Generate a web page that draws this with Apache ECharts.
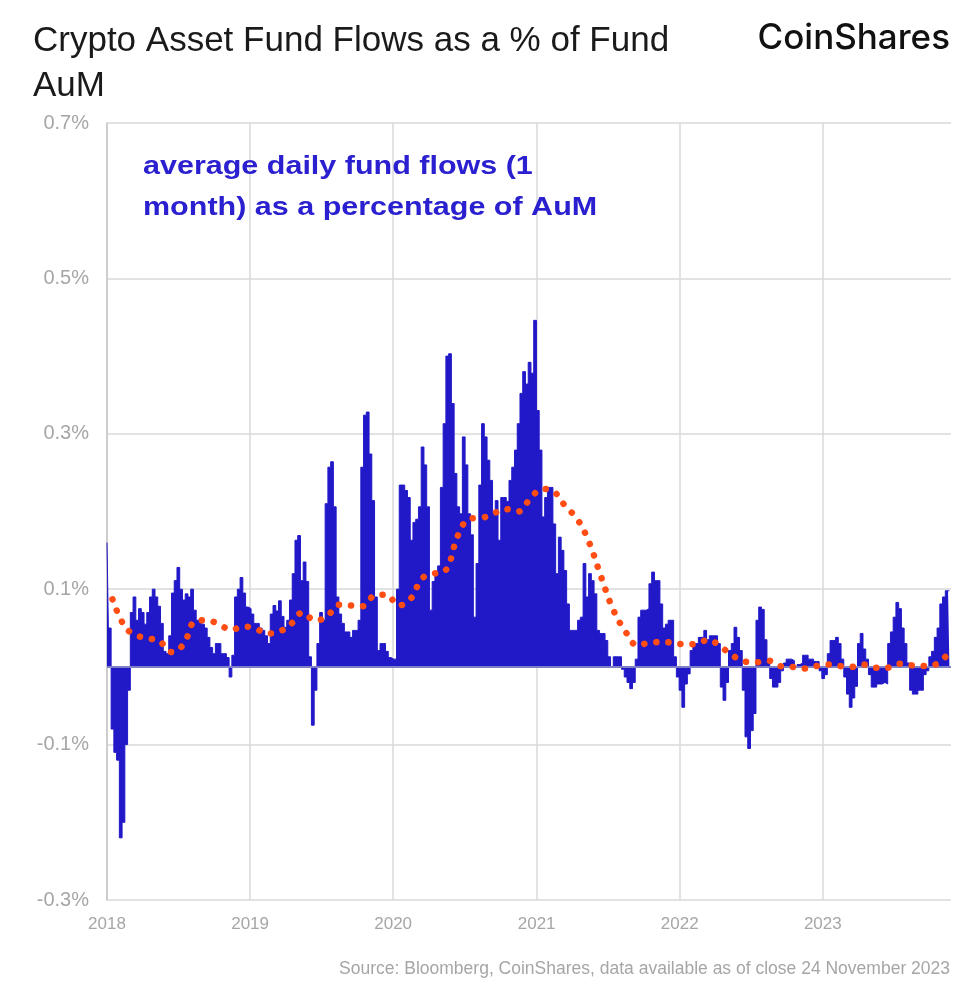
<!DOCTYPE html>
<html><head><meta charset="utf-8">
<script src="https://cdn.jsdelivr.net/npm/echarts@6/dist/echarts.min.js"></script>
<style>html,body{margin:0;padding:0;background:#fff}#c{width:960px;height:990px}</style>
</head><body><div id="c"></div>
<script>
// Weekly observations of average daily fund flows (1 month) as % of AuM, starting 2018-01-01
const flowStart = '2018-01-01';
const flowStepDays = 7;
const flowValues = [
 0.16, 0.05, -0.08, -0.11, -0.12, -0.22, -0.20, -0.10, -0.03, 0.07,
 0.09, 0.06, 0.075, 0.07, 0.055, 0.07, 0.09, 0.10, 0.09, 0.078,
 0.056, 0.02, 0.017, 0.04, 0.095, 0.111, 0.128, 0.10, 0.086, 0.094,
 0.09, 0.10, 0.073, 0.06, 0.058, 0.055, 0.05, 0.038, 0.025, 0.017,
 0.03, 0.03, 0.017, 0.017, 0.012, -0.013, 0.015, 0.09, 0.10, 0.115,
 0.095, 0.077, 0.075, 0.068, 0.056, 0.056, 0.05, 0.047, 0.04, 0.03,
 0.068, 0.079, 0.072, 0.085, 0.065, 0.051, 0.06, 0.086, 0.12, 0.163,
 0.169, 0.111, 0.135, 0.11, 0.013, -0.075, -0.03, 0.03, 0.07, 0.06,
 0.21, 0.257, 0.264, 0.206, 0.09, 0.068, 0.056, 0.045, 0.045, 0.038,
 0.047, 0.047, 0.06, 0.257, 0.324, 0.328, 0.274, 0.214, 0.09, 0.021,
 0.03, 0.03, 0.02, 0.012, 0.01, 0.01, 0.10, 0.234, 0.234, 0.227,
 0.218, 0.163, 0.186, 0.19, 0.206, 0.283, 0.26, 0.206, 0.073, 0.11,
 0.12, 0.13, 0.231, 0.313, 0.40, 0.403, 0.339, 0.249, 0.206, 0.197,
 0.296, 0.26, 0.197, 0.17, 0.064, 0.133, 0.234, 0.313, 0.296, 0.266,
 0.24, 0.2, 0.214, 0.163, 0.218, 0.218, 0.213, 0.24, 0.257, 0.279,
 0.313, 0.352, 0.38, 0.364, 0.392, 0.378, 0.446, 0.33, 0.279, 0.193,
 0.218, 0.231, 0.231, 0.184, 0.12, 0.167, 0.15, 0.124, 0.081, 0.047,
 0.047, 0.047, 0.06, 0.064, 0.133, 0.09, 0.12, 0.111, 0.094, 0.047,
 0.043, 0.043, 0.034, 0.013, 0.0, 0.013, 0.013, 0.013, -0.003, -0.013,
 -0.02, -0.028, -0.02, 0.01, 0.064, 0.073, 0.073, 0.075, 0.107, 0.122,
 0.111, 0.111, 0.081, 0.05, 0.055, 0.06, 0.06, 0.013, -0.013, -0.03,
 -0.052, -0.022, -0.009, 0.021, 0.03, 0.03, 0.038, 0.038, 0.047, 0.035,
 0.04, 0.04, 0.04, 0.03, -0.026, -0.043, -0.02, 0.021, 0.03, 0.051,
 0.038, 0.021, -0.03, -0.09, -0.105, -0.082, -0.06, 0.06, 0.077, 0.074,
 0.035, 0.01, -0.015, -0.026, -0.026, -0.02, -0.005, 0.005, 0.01, 0.01,
 0.008, 0.0, 0.003, 0.005, 0.015, 0.015, 0.01, 0.01, 0.007, 0.007,
 -0.005, -0.015, -0.01, 0.017, 0.034, 0.034, 0.038, 0.03, 0.01, -0.013,
 -0.035, -0.052, -0.04, -0.025, 0.03, 0.043, 0.023, 0.01, -0.01, -0.026,
 -0.026, -0.022, -0.022, -0.02, -0.022, 0.03, 0.045, 0.064, 0.083, 0.075,
 0.05, 0.03, 0.005, -0.03, -0.035, -0.035, -0.03, -0.03, -0.01, -0.005,
 0.013, 0.02, 0.038, 0.05, 0.081, 0.09, 0.098, 0.098
];
// Mid-month values of the orange trend line, Jan 2018 .. Nov 2023
const trendStartYear = 2018;
const trendValues = [
 0.087, 0.052, 0.041, 0.037, 0.033, 0.019, 0.029, 0.059, 0.060, 0.054, 0.048, 0.052,
 0.049, 0.043, 0.045, 0.055, 0.070, 0.060, 0.064, 0.080, 0.079, 0.078, 0.092, 0.093,
 0.079, 0.088, 0.114, 0.120, 0.125, 0.170, 0.191, 0.192, 0.198, 0.203, 0.200, 0.216,
 0.229, 0.225, 0.207, 0.190, 0.160, 0.115, 0.074, 0.046, 0.028, 0.031, 0.032, 0.031,
 0.029, 0.030, 0.035, 0.026, 0.015, 0.007, 0.006, 0.008, 0.001, 0.000, -0.002, 0.001,
 0.003, 0.001, 0.000, 0.003, -0.001, -0.001, 0.004, 0.002, 0.001, 0.003, 0.016
];
const xRange = ['2018-01-01', '2023-11-24'];
const yMin = -0.3, yMax = 0.7, yInterval = 0.2;

const DAY = 864e5;
const t0 = new Date(flowStart + 'T00:00:00').getTime();
const flowData = flowValues.map((v, i) => [t0 + i * flowStepDays * DAY, v]);
const trendData = trendValues.map((v, i) => [new Date(trendStartYear, i, 15).getTime(), v]);

const BLUE = '#2118c8', ORANGE = '#ff4d14', GRID = '#d9d9d9', LABEL = '#a6a6a6';
const chart = echarts.init(document.getElementById('c'), null, {renderer: 'canvas'});
chart.setOption({
  animation: false,
  backgroundColor: '#fff',
  title: [
    {text: 'Crypto Asset Fund Flows as a % of Fund\nAuM', left: 33, top: 19, padding: 0,
     textStyle: {fontFamily: 'Liberation Sans', fontSize: 35, fontWeight: 'normal', color: '#1a1a1a', lineHeight: 45}},
    {text: 'CoinShares', right: 10, top: 21, padding: 0,
     textStyle: {fontFamily: 'Inter', fontSize: 35, fontWeight: 500, color: '#111'}}
  ],
  graphic: [
    {type: 'text', left: 143, top: 147, z: 20, scaleX: 1.22,
     style: {text: 'average daily fund flows (1\nmonth) as a percentage of AuM',
             font: 'bold 25px "Liberation Sans"', lineHeight: 41, fill: '#2b20d0'}},
    {type: 'text', right: 10, top: 960, z: 20,
     style: {text: 'Source: Bloomberg, CoinShares, data available as of close 24 November 2023',
             font: '17.5px "Liberation Sans"', fill: LABEL}}
  ],
  grid: {left: 107, right: 9, top: 123, bottom: 90, containLabel: false},
  xAxis: {
    type: 'time', min: xRange[0], max: xRange[1],
    minInterval: 365 * DAY, maxInterval: 366 * DAY,
    axisLine: {show: false, onZero: false}, axisTick: {show: false},
    axisLabel: {formatter: '{yyyy}', color: LABEL, fontSize: 17, fontFamily: 'Liberation Sans', margin: 16, showMaxLabel: false},
    splitLine: {show: true, showMaxLine: false, lineStyle: {color: GRID, width: 1.5}}
  },
  yAxis: {
    type: 'value', min: yMin, max: yMax, interval: yInterval,
    axisLine: {show: true, lineStyle: {color: '#c8c8c8', width: 1.5}}, axisTick: {show: false},
    axisLabel: {formatter: v => v.toFixed(1) + '%', color: LABEL, fontSize: 20, fontFamily: 'Liberation Sans', margin: 18},
    splitLine: {show: true, lineStyle: {color: GRID, width: 1.5}}
  },
  series: [
    {type: 'line', name: 'flows', data: flowData, step: 'middle', symbol: 'none', z: 2,
     lineStyle: {color: BLUE, width: 1}, areaStyle: {color: BLUE, opacity: 1},
     markLine: {silent: true, symbol: 'none', label: {show: false},
       lineStyle: {color: '#7f7fc6', width: 2, type: 'solid'}, data: [{yAxis: 0}]}},
    {type: 'line', name: 'trend', data: trendData, smooth: 0.4, symbol: 'none', z: 5,
     lineStyle: {color: ORANGE, width: 6.5, type: [0.1, 12], cap: 'round'}}
  ]
});
</script></body></html>
